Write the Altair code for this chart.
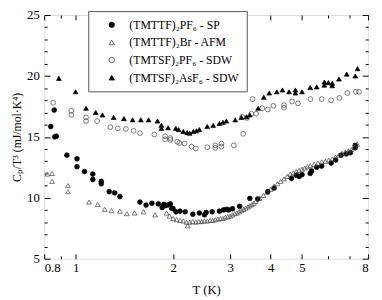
import altair as alt
import pandas as pd

# ---- data ----
series_names = ["(TMTTF)₂PF₆ - SP", "(TMTTF)₂Br - AFM", "(TMTSF)₂PF₆ - SDW", "(TMTSF)₂AsF₆ - SDW"]

t_sp = [0.838, 0.859, 0.862, 0.872, 0.94, 1.01, 1.01, 1.065, 1.13, 1.13, 1.2, 1.2, 1.27, 1.32, 1.37,
        1.58, 1.65, 1.72, 1.80, 1.85, 1.87, 1.89, 1.92, 1.96, 1.98, 2.0, 2.04, 2.1, 2.18, 2.3, 2.41,
        2.5, 2.53, 2.64, 2.78, 2.86, 2.92, 2.97, 3.05, 3.21, 3.45, 3.65, 3.92, 4.1, 4.64, 4.8, 4.9,
        5.0, 5.3, 5.35, 5.55, 5.75, 6.15, 6.35, 6.6, 6.85, 7.05, 7.3, 7.3]
v_sp = [15.85, 17.2, 15.0, 15.05, 13.5, 13.2, 12.55, 12.15, 11.95, 11.5, 11.35, 11.15, 10.5, 10.4, 10.1,
        9.65, 9.4, 9.55, 9.5, 9.2, 9.45, 9.35, 9.4, 9.5, 9.15, 9.1, 8.85, 8.9, 8.85, 8.65, 8.75,
        8.6, 8.8, 8.85, 8.9, 9.0, 9.05, 9.0, 9.1, 9.3, 9.95, 9.9, 10.5, 10.8, 11.6, 11.85, 11.75,
        11.9, 12.0, 12.2, 12.5, 12.6, 12.85, 13.1, 13.5, 13.6, 13.7, 14.1, 14.3]

t_afm = [0.818, 0.846, 0.846, 0.947, 0.947, 1.10, 1.17, 1.23, 1.29, 1.37, 1.44, 1.52, 1.62, 1.76, 1.91,
         1.95, 2.0, 2.05, 2.1, 2.15, 2.2, 2.22, 2.25, 2.3, 2.35, 2.4, 2.45, 2.5, 2.55, 2.6, 2.65, 2.7,
         2.75, 2.8, 2.85, 2.9, 2.95, 3.0, 3.05, 3.1, 3.15, 3.2, 3.25, 3.3, 3.35, 3.4, 3.45, 3.5, 3.55,
         3.6, 3.7, 3.8, 3.9, 4.0, 4.1, 4.2, 4.3, 4.4, 4.5, 4.6, 4.7, 4.8, 4.9, 5.0, 5.1, 5.2, 5.3,
         5.45, 5.6, 5.75, 5.9, 6.05, 6.2, 6.35, 6.5, 6.65, 6.8, 6.95, 7.1, 7.25, 7.4]
v_afm = [11.95, 12.0, 11.35, 11.0, 10.5, 9.65, 9.45, 9.05, 8.95, 8.9, 8.7, 8.75, 8.85, 8.6, 8.75,
         8.5, 8.3, 8.2, 8.15, 8.1, 8.0, 7.7, 8.0, 8.05, 8.0, 8.05, 8.05, 8.1, 8.1, 8.15, 8.15, 8.2,
         8.25, 8.3, 8.3, 8.4, 8.45, 8.5, 8.6, 8.7, 8.75, 8.85, 8.95, 9.05, 9.15, 9.25, 9.35, 9.45, 9.55,
         9.7, 9.95, 10.2, 10.45, 10.7, 10.95, 11.15, 11.35, 11.55, 11.75, 11.95, 12.05, 12.15, 12.25, 12.35, 12.45, 12.55, 12.65,
         12.75, 12.85, 12.95, 13.0, 13.1, 13.2, 13.35, 13.5, 13.65, 13.75, 13.85, 13.95, 14.15, 14.4]

t_sdw_pf6 = [0.853, 0.97, 0.97, 1.077, 1.077, 1.165, 1.28, 1.35, 1.43, 1.51, 1.58, 1.75, 1.89, 1.89,
             1.96, 1.96, 2.06, 2.09, 2.17, 2.28, 2.35, 2.55, 2.7, 2.7, 2.82, 2.82, 3.08, 3.29, 3.27,
             3.38, 3.49, 3.61, 3.52, 3.77, 3.92, 4.08, 4.4, 4.4, 4.66, 4.86, 5.31, 5.75, 6.15, 6.52,
             6.9, 7.33, 7.5]
v_sdw_pf6 = [17.8, 17.15, 16.8, 16.6, 16.3, 16.3, 15.8, 15.7, 15.65, 15.5, 15.3, 15.2, 15.05, 14.8,
             14.9, 14.75, 14.6, 14.5, 14.45, 14.2, 14.05, 14.15, 14.3, 14.1, 14.45, 14.2, 14.3, 15.25, 16.65,
             16.55, 16.9, 16.9, 18.1, 17.35, 17.25, 17.55, 17.6, 17.4, 17.9, 17.75, 18.1, 18.1, 18.0, 18.2,
             18.6, 18.7, 18.7]

t_sdw_asf6 = [0.888, 1.0, 1.077, 1.154, 1.21, 1.31, 1.41, 1.50, 1.59, 1.68, 1.79, 1.84, 1.84, 1.93,
              2.04, 2.08, 2.15, 2.21, 2.25, 2.31, 2.36, 2.41, 2.55, 2.66, 2.78, 2.85, 2.92, 3.11, 3.25,
              3.37, 3.45, 3.66, 3.81, 3.96, 4.18, 4.35, 4.56, 4.77, 4.77, 5.0, 5.3, 5.55, 5.86, 5.86,
              6.03, 6.2, 6.2, 6.5, 6.87, 7.3, 7.42]
v_sdw_asf6 = [19.8, 18.7, 17.35, 17.0, 16.8, 16.6, 16.5, 16.4, 16.4, 16.4, 16.3, 15.95, 15.7, 15.75,
              15.7, 15.6, 15.45, 15.35, 15.3, 15.45, 15.5, 15.6, 15.85, 15.95, 16.1, 16.2, 16.3, 16.4, 16.6,
              16.65, 16.8, 17.35, 18.25, 18.6, 18.7, 18.85, 18.7, 18.85, 18.6, 18.7, 19.05, 19.1, 19.5, 19.25,
              19.45, 19.4, 19.2, 19.75, 20.15, 20.0, 20.6]

y_major = [5, 10, 15, 20, 25]
y_all_ticks = list(range(5, 26))
x_labels = [0.8, 1, 2, 3, 4, 5, 8]
x_all_ticks = [0.8, 0.9, 1, 2, 3, 4, 5, 6, 7, 8]

rows = []
for name, ts, vs in zip(series_names, [t_sp, t_afm, t_sdw_pf6, t_sdw_asf6],
                        [v_sp, v_afm, v_sdw_pf6, v_sdw_asf6]):
    for t, v in zip(ts, vs):
        rows.append({"T": t, "C": v, "series": name})
df = pd.DataFrame(rows)

W, H = 331, 249
FONT = "Liberation Serif"

xscale = alt.Scale(type="log", domain=[0.8, 8], nice=False)
yscale = alt.Scale(domain=[5, 25], nice=False, zero=False)

legend = alt.Legend(
    title=None, orient="none", legendX=45, legendY=-4,
    labelFont=FONT, labelFontSize=12, labelColor="black",
    strokeColor="#555", padding=8, rowPadding=6,
    symbolSize=30, symbolStrokeWidth=0.8,
    symbolOffset=10, labelOffset=12, fillColor="white",
)

shape_scale = alt.Scale(domain=series_names, range=["circle", "triangle-up", "circle", "triangle-up"])
fill_scale = alt.Scale(domain=series_names, range=["black", "transparent", "transparent", "black"])
stroke_scale = alt.Scale(domain=series_names, range=["black", "#444", "#444", "black"])

x_tick_size = {"condition": {"test": "indexof([0.9, 6, 7], datum.value) < 0", "value": 5}, "value": 3}
y_tick_size = {"condition": {"test": "datum.value % 5 === 0", "value": 6}, "value": 3}

base = alt.Chart(df)

main = base.mark_point(filled=True, strokeWidth=0.7, size=24, opacity=1).encode(
    x=alt.X("T:Q", scale=xscale, axis=alt.Axis(
        orient="bottom", values=x_labels, ticks=False, domain=False, grid=False,
        labelFont=FONT, labelFontSize=13, labelColor="black", labelPadding=3,
        labelExpr="datum.value",
        title="T (K)", titleFont=FONT, titleFontSize=13, titleFontWeight="normal",
        titleColor="black", titlePadding=10)),
    y=alt.Y("C:Q", scale=yscale, axis=alt.Axis(
        orient="left", values=y_major, ticks=False, domain=False, grid=False,
        labelFont=FONT, labelFontSize=13, labelColor="black", labelPadding=5,
        title="Cₚ/T³ (mJ/mol·K⁴)", titleFont=FONT, titleFontSize=12, titleFontWeight="normal",
        titleColor="black", titlePadding=3)),
    shape=alt.Shape("series:N", scale=shape_scale, legend=legend),
    fill=alt.Fill("series:N", scale=fill_scale, legend=legend),
    stroke=alt.Stroke("series:N", scale=stroke_scale, legend=legend),
)

# inward ticks on the bottom/left edges
ticks_a = base.mark_point(opacity=0).encode(
    x=alt.X("T:Q", scale=xscale, axis=alt.Axis(
        orient="top", offset=-H, values=x_all_ticks, labels=False, domain=False, grid=False,
        ticks=True, tickSize=x_tick_size, tickColor="black", tickWidth=1, title=None)),
    y=alt.Y("C:Q", scale=yscale, axis=alt.Axis(
        orient="right", offset=-W, values=y_all_ticks, labels=False, domain=False, grid=False,
        ticks=True, tickSize=y_tick_size, tickColor="black", tickWidth=1, title=None)),
)

# inward ticks on the top/right edges
ticks_b = base.mark_point(opacity=0).encode(
    x=alt.X("T:Q", scale=xscale, axis=alt.Axis(
        orient="bottom", offset=-H, values=x_all_ticks, labels=False, domain=False, grid=False,
        ticks=True, tickSize=x_tick_size, tickColor="black", tickWidth=1, title=None)),
    y=alt.Y("C:Q", scale=yscale, axis=alt.Axis(
        orient="left", offset=-W, values=y_all_ticks, labels=False, domain=False, grid=False,
        ticks=True, tickSize=y_tick_size, tickColor="black", tickWidth=1, title=None)),
)

chart = alt.layer(main, ticks_a, ticks_b).resolve_axis(
    x="independent", y="independent"
).properties(
    width=W, height=H,
    autosize=alt.AutoSizeParams(type="none"),
    padding={"left": 37, "top": 4, "right": 6, "bottom": 39},
).configure_view(
    stroke="black", strokeWidth=1
).configure(background="white")

chart.save("out.html", embed_options={"renderer": "svg", "actions": False})
